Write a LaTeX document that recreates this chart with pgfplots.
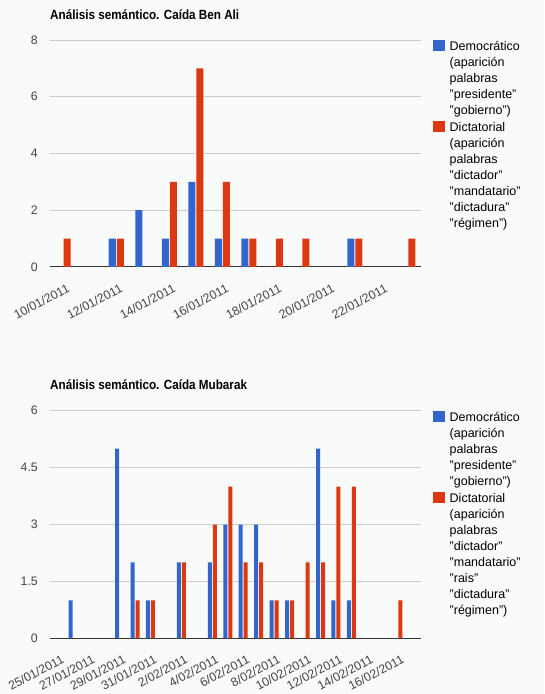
\documentclass[border=0pt]{standalone}
\usepackage{pgfplots}
\pgfplotsset{compat=1.18}
\usepackage{fontspec}
\setmainfont{Liberation Sans}
\newfontfamily\titlefont{Liberation Sans}[FakeStretch=0.88]
\definecolor{gblue}{HTML}{3366CC}
\definecolor{gred}{HTML}{DC3912}
\definecolor{bgc}{RGB}{248,251,249}
\definecolor{gridc}{HTML}{CCCCCC}
\definecolor{axc}{HTML}{333333}
\definecolor{labc}{HTML}{444444}
\pgfplotsset{
 gchart/.style={
  scale only axis, width=371pt,
  anchor=south west,
  ymin=0,
  axis lines=left, axis line style={-},
  y axis line style={draw=none},
  x axis line style={draw=axc, line width=1pt},
  major tick length=0pt,
  ymajorgrids, major grid style={draw=gridc, line width=1pt},
  /pgf/number format/assume math mode=true,
  ticklabel style={font=\fontsize{12.3}{14}\selectfont, color=labc},
  yticklabel style={inner sep=0pt, xshift=-12pt},
  xticklabel style={inner sep=0pt, xshift=3pt, yshift=-16pt, rotate=28, anchor=north east},
  title style={at={(0,1)}, anchor=base west, inner sep=0pt, yshift=15pt, font=\titlefont\bfseries\fontsize{13.3}{15}\selectfont},
  legend style={at={(1,1)}, anchor=north west, xshift=12pt, draw=none, fill=none, inner sep=0pt, row sep=0pt, column sep=5pt, font=\fontsize{12.5}{16}\selectfont, nodes={inner sep=0pt, text height=9.5pt, text depth=6.5pt}},
  legend cell align=left,
  legend image code/.code={\fill[##1] (0pt,-2pt) rectangle (11.5pt,9pt);},
 }
}
\begin{document}
\begin{tikzpicture}
\fill[bgc] (0,0) rectangle (544pt,694pt);
\begin{axis}[gchart, at={(50pt,427pt)}, height=227pt,
  title={Análisis semántico. Caída Ben Ali},
  ymax=8, ytick={0,2,4,6,8},
  xmin=-0.5, xmax=13.5, xtick={0,2,4,6,8,10,12},
  xticklabels={10/01/2011,12/01/2011,14/01/2011,16/01/2011,18/01/2011,20/01/2011,22/01/2011}]
\addplot[ybar, fill=gblue, draw=none, bar width=7pt, bar shift=-4pt] coordinates {(2,1) (3,2) (4,1) (5,3) (6,1) (7,1) (11,1)};
\addlegendentry{Democrático}
\addlegendimage{empty legend}\addlegendentry{(aparición}
\addlegendimage{empty legend}\addlegendentry{palabras}
\addlegendimage{empty legend}\addlegendentry{"presidente"}
\addlegendimage{empty legend}\addlegendentry{"gobierno")}
\addplot[ybar, fill=gred, draw=none, bar width=7pt, bar shift=4pt] coordinates {(0,1) (2,1) (4,3) (5,7) (6,3) (7,1) (8,1) (9,1) (11,1) (13,1)};
\addlegendentry{Dictatorial}
\addlegendimage{empty legend}\addlegendentry{(aparición}
\addlegendimage{empty legend}\addlegendentry{palabras}
\addlegendimage{empty legend}\addlegendentry{"dictador"}
\addlegendimage{empty legend}\addlegendentry{"mandatario"}
\addlegendimage{empty legend}\addlegendentry{"dictadura"}
\addlegendimage{empty legend}\addlegendentry{"régimen")}
\end{axis}
\begin{axis}[gchart, at={(50pt,55.7pt)}, height=227.6pt,
  title={Análisis semántico. Caída Mubarak},
  ymax=6, ytick={0,1.5,3,4.5,6},
  xmin=-0.5, xmax=23.5, xtick={0,2,4,6,8,10,12,14,16,18,20,22},
  xticklabels={25/01/2011,27/01/2011,29/01/2011,31/01/2011,2/02/2011,4/02/2011,6/02/2011,8/02/2011,10/02/2011,12/02/2011,14/02/2011,16/02/2011}]
\addplot[ybar, fill=gblue, draw=none, bar width=4pt, bar shift=-2.5pt] coordinates {(1,1) (4,5) (5,2) (6,1) (8,2) (10,2) (11,3) (12,3) (13,3) (14,1) (15,1) (17,5) (18,1) (19,1)};
\addlegendentry{Democrático}
\addlegendimage{empty legend}\addlegendentry{(aparición}
\addlegendimage{empty legend}\addlegendentry{palabras}
\addlegendimage{empty legend}\addlegendentry{"presidente"}
\addlegendimage{empty legend}\addlegendentry{"gobierno")}
\addplot[ybar, fill=gred, draw=none, bar width=4pt, bar shift=2.5pt] coordinates {(5,1) (6,1) (8,2) (10,3) (11,4) (12,2) (13,2) (14,1) (15,1) (16,2) (17,2) (18,4) (19,4) (22,1)};
\addlegendentry{Dictatorial}
\addlegendimage{empty legend}\addlegendentry{(aparición}
\addlegendimage{empty legend}\addlegendentry{palabras}
\addlegendimage{empty legend}\addlegendentry{"dictador"}
\addlegendimage{empty legend}\addlegendentry{"mandatario"}
\addlegendimage{empty legend}\addlegendentry{"rais"}
\addlegendimage{empty legend}\addlegendentry{"dictadura"}
\addlegendimage{empty legend}\addlegendentry{"régimen")}
\end{axis}
\pgfresetboundingbox
\path[use as bounding box] (0,0) rectangle (544pt,694pt);
\end{tikzpicture}
\end{document}
